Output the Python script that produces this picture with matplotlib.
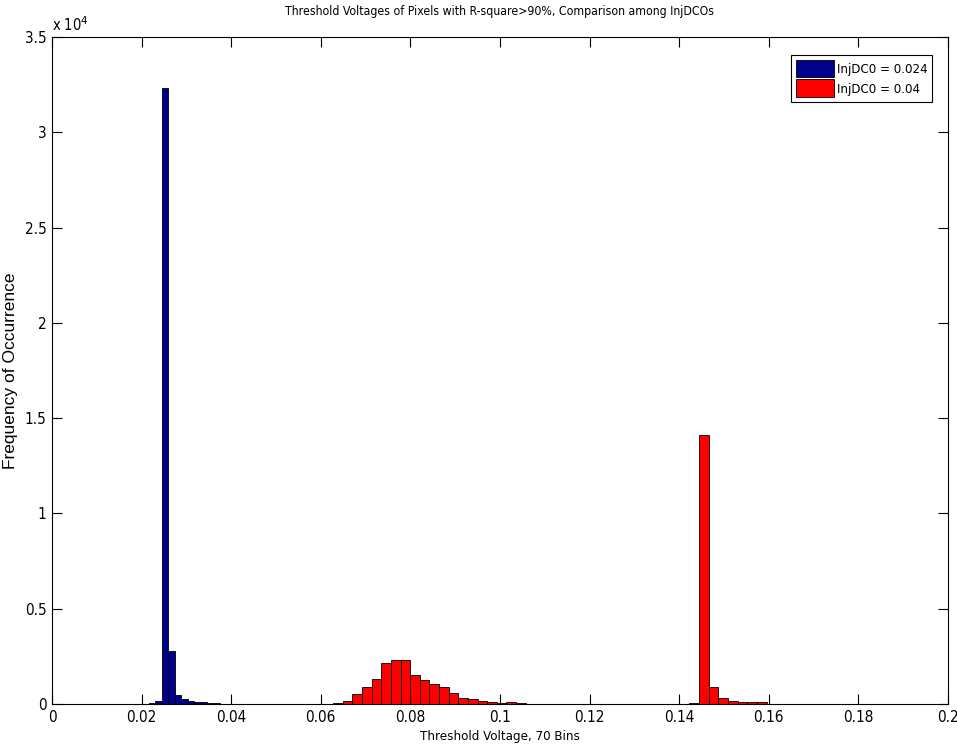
import numpy as np
import matplotlib
matplotlib.use("Agg")
import matplotlib.pyplot as plt
from matplotlib.ticker import FuncFormatter, FixedLocator

# Histogram ranges (70 bins each) and counts per bin
n_bins = 70
blue_range = (0.0029, 0.0029 + 70 * 0.00144)
red_range = (0.009, 0.009 + 70 * 0.00215)

blue_counts = [0] * 70
blue_counts[13] = 30
blue_counts[14] = 160
blue_counts[15] = 32300
blue_counts[16] = 2800
blue_counts[17] = 480
blue_counts[18] = 260
blue_counts[19] = 160
blue_counts[20] = 110
blue_counts[21] = 90
blue_counts[22] = 70
blue_counts[23] = 40

red_counts = [0] * 70
red_mid = [40, 170, 525, 890, 1310, 2170, 2310, 2310, 1540, 1240, 1030,
           890, 600, 330, 245, 160, 90, 60, 80, 50, 20]
red_counts[25:25 + len(red_mid)] = red_mid
red_counts[62] = 50
red_counts[63] = 14100
red_counts[64] = 910
red_counts[65] = 330
red_counts[66] = 175
red_counts[67] = 100
red_counts[68] = 90
red_counts[69] = 80

series_labels = ["InjDC0 = 0.024", "InjDC0 = 0.04"]
x_ticks = [0, 0.02, 0.04, 0.06, 0.08, 0.1, 0.12, 0.14, 0.16, 0.18, 0.2]
x_tick_labels = ["0", "0.02", "0.04", "0.06", "0.08", "0.1", "0.12", "0.14", "0.16", "0.18", "0.2"]
y_ticks = [0, 5000, 10000, 15000, 20000, 25000, 30000, 35000]

narrow = dict(family="DejaVu Sans", stretch="condensed")

fig = plt.figure(figsize=(9.57, 7.52), dpi=100)
ax = fig.add_axes([0.0543, 0.0638, 0.9363, 0.887])

for rng, counts, color, label in [
    (blue_range, blue_counts, "#00008F", series_labels[0]),
    (red_range, red_counts, "#FF0000", series_labels[1]),
]:
    edges = np.linspace(rng[0], rng[1], n_bins + 1)
    ax.bar(edges[:-1], counts, width=np.diff(edges), align="edge",
           color=color, edgecolor="black", linewidth=0.6, label=label)

ax.set_xlim(0, 0.2)
ax.set_ylim(0, 35000)
ax.xaxis.set_major_locator(FixedLocator(x_ticks))
ax.set_xticklabels(x_tick_labels, fontsize=11, **narrow)
ax.yaxis.set_major_locator(FixedLocator(y_ticks))
ax.yaxis.set_major_formatter(FuncFormatter(lambda v, p: f"{v / 1e4:g}"))
for lbl in ax.get_yticklabels():
    lbl.set_family(narrow["family"])
    lbl.set_stretch(narrow["stretch"])
    lbl.set_fontsize(11)

ax.tick_params(direction="in", length=7, width=0.8, top=True, right=True,
               pad=4, colors="black")
for s in ax.spines.values():
    s.set_linewidth(0.8)

ax.text(0.0, 1.005, r"x 10$^4$", transform=ax.transAxes, fontsize=10.5,
        ha="left", va="bottom", **narrow)

ax.set_title("Threshold Voltages of Pixels with R-square>90%, Comparison among InjDCOs",
             fontsize=8.8, pad=16, **narrow)
ax.set_xlabel("Threshold Voltage, 70 Bins", fontsize=9.5, labelpad=4, **narrow)
ax.set_ylabel("Frequency of Occurrence", family="Liberation Sans", fontsize=12.5)
ax.yaxis.set_label_coords(-0.038, 0.5)

leg = ax.legend(loc="upper right", bbox_to_anchor=(0.982, 0.973),
                prop={"family": narrow["family"], "stretch": narrow["stretch"],
                      "size": 9.5},
                fancybox=False, framealpha=1, edgecolor="black",
                handlelength=2.9, handleheight=1.7, handletextpad=0.2,
                borderpad=0.35, labelspacing=0.15, borderaxespad=0)
leg.get_frame().set_linewidth(0.8)

fig.savefig("out.png", dpi=100)
